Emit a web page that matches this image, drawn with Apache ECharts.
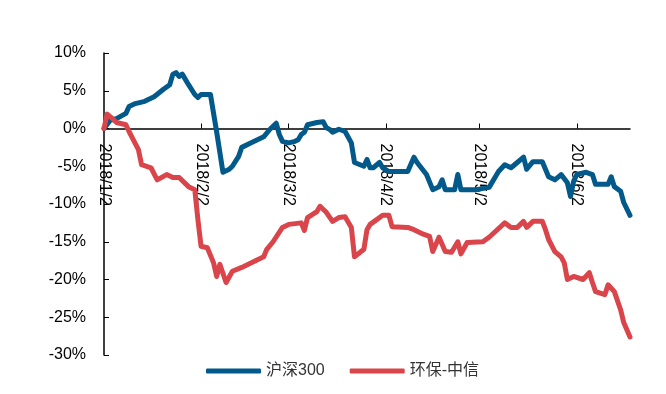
<!DOCTYPE html>
<html>
<head>
<meta charset="utf-8">
<script src="https://cdn.jsdelivr.net/npm/echarts@6/dist/echarts.min.js"></script>
<style>
  html, body { margin: 0; padding: 0; background: #fff; }
  #main { width: 666px; height: 394px; }
</style>
</head>
<body>
<div id="main"></div>
<script>
// 沪深300 累计涨跌幅（%）
var hs300Dates = ['2018-01-02','2018-01-04','2018-01-06','2018-01-09','2018-01-10','2018-01-12','2018-01-15','2018-01-17','2018-01-18','2018-01-21',
  '2018-01-23','2018-01-24','2018-01-25','2018-01-26','2018-01-27','2018-01-29','2018-01-31','2018-02-01','2018-02-02','2018-02-05',
  '2018-02-07','2018-02-09','2018-02-11','2018-02-12','2018-02-14','2018-02-15','2018-02-18','2018-02-22','2018-02-24','2018-02-26',
  '2018-02-27','2018-02-28','2018-03-02','2018-03-04','2018-03-05','2018-03-06','2018-03-07','2018-03-08','2018-03-11','2018-03-13',
  '2018-03-14','2018-03-15','2018-03-16','2018-03-18','2018-03-20','2018-03-22','2018-03-23','2018-03-26','2018-03-27','2018-03-28',
  '2018-03-29','2018-03-31','2018-04-01','2018-04-03','2018-04-05','2018-04-09','2018-04-11','2018-04-12','2018-04-15','2018-04-17',
  '2018-04-19','2018-04-20','2018-04-21','2018-04-24','2018-04-25','2018-04-26','2018-05-01','2018-05-05','2018-05-08','2018-05-10',
  '2018-05-12','2018-05-14','2018-05-16','2018-05-17','2018-05-19','2018-05-22','2018-05-23','2018-05-24','2018-05-26','2018-05-28',
  '2018-05-30','2018-05-31','2018-06-01','2018-06-02','2018-06-05','2018-06-07','2018-06-08','2018-06-12','2018-06-13','2018-06-14',
  '2018-06-16','2018-06-17','2018-06-19'];
var hs300Values = [0.0, 1.1, 1.3, 2.0, 2.9, 3.3, 3.6, 4.0, 4.2, 5.2,
  5.8, 7.2, 7.4, 6.9, 7.2, 5.8, 4.5, 4.1, 4.5, 4.5,
  -0.5, -5.8, -5.4, -5.0, -3.7, -2.5, -1.9, -1.1, -0.1, 0.7,
  -0.8, -1.7, -1.9, -1.7, -1.5, -0.8, -0.5, 0.5, 0.8, 0.9,
  0.1, -0.1, -0.5, -0.1, -0.4, -1.9, -4.5, -5.0, -4.1, -5.2,
  -5.2, -4.5, -5.2, -5.7, -5.7, -5.7, -3.8, -4.5, -6.1, -8.1,
  -7.7, -6.8, -8.1, -8.1, -6.1, -8.1, -8.1, -7.8, -5.7, -4.8,
  -5.2, -4.5, -3.8, -5.4, -4.4, -4.4, -5.4, -6.4, -6.8, -6.1,
  -7.2, -9.0, -7.0, -6.1, -5.8, -6.1, -7.4, -7.4, -6.4, -7.7,
  -8.3, -9.8, -11.5];

// 环保-中信 累计涨跌幅（%）
var envDates = ['2018-01-02','2018-01-03','2018-01-05','2018-01-06','2018-01-09','2018-01-10','2018-01-11','2018-01-13','2018-01-14','2018-01-17',
  '2018-01-19','2018-01-22','2018-01-24','2018-01-26','2018-01-29','2018-01-31','2018-02-01','2018-02-02','2018-02-04','2018-02-06',
  '2018-02-07','2018-02-08','2018-02-10','2018-02-12','2018-02-15','2018-02-22','2018-02-23','2018-02-25','2018-02-28','2018-03-02',
  '2018-03-06','2018-03-07','2018-03-08','2018-03-11','2018-03-12','2018-03-14','2018-03-16','2018-03-18','2018-03-20','2018-03-22',
  '2018-03-23','2018-03-26','2018-03-27','2018-03-28','2018-03-30','2018-04-01','2018-04-03','2018-04-04','2018-04-09','2018-04-11',
  '2018-04-14','2018-04-16','2018-04-17','2018-04-19','2018-04-21','2018-04-23','2018-04-25','2018-04-26','2018-04-28','2018-05-03',
  '2018-05-05','2018-05-10','2018-05-12','2018-05-14','2018-05-16','2018-05-17','2018-05-19','2018-05-22','2018-05-23','2018-05-24',
  '2018-05-26','2018-05-28','2018-05-29','2018-05-30','2018-06-01','2018-06-04','2018-06-06','2018-06-07','2018-06-08','2018-06-11',
  '2018-06-12','2018-06-14','2018-06-16','2018-06-17','2018-06-19'];
var envValues = [0.0, 1.9, 1.2, 0.8, 0.5, -0.4, -1.2, -2.8, -4.8, -5.2,
  -6.8, -6.1, -6.5, -6.5, -7.7, -8.1, -12.1, -15.6, -15.8, -17.8,
  -19.6, -18.0, -20.4, -18.9, -18.4, -17.0, -16.0, -15.0, -13.1, -12.7,
  -12.5, -13.5, -11.8, -11.0, -10.3, -11.1, -12.3, -11.8, -11.7, -13.1,
  -17.0, -16.0, -13.4, -12.7, -12.1, -11.5, -11.5, -13.0, -13.1, -13.4,
  -14.0, -14.3, -16.3, -14.4, -16.3, -16.4, -15.0, -16.6, -15.1, -15.0,
  -14.4, -12.5, -13.1, -13.1, -12.3, -13.1, -12.3, -12.3, -13.4, -14.7,
  -16.3, -17.0, -17.8, -20.0, -19.6, -20.0, -19.1, -20.4, -21.6, -22.0,
  -20.7, -21.6, -24.0, -25.7, -27.6];

var seriesNames = ['沪深300', '环保-中信'];
var tickDates = ['2018-01-02', '2018-02-02', '2018-03-02', '2018-04-02', '2018-05-02', '2018-06-02'];
var xRange = ['2018-01-02', '2018-06-19'];
var yTicks = { min: -30, max: 10, interval: 5 };

// 'YYYY-MM-DD' -> 本地时间戳
function ts(s) {
  var p = s.split('-');
  return new Date(+p[0], +p[1] - 1, +p[2]).getTime();
}
function pairs(dates, vals) {
  return dates.map(function (d, i) { return [ts(d), vals[i]]; });
}
var tickValues = tickDates.map(ts);

var gridTop = 53, gridBottom = 39, chartH = 394;
var plotH = chartH - gridTop - gridBottom;
// x轴放在 0% 处（v6 里 onZero 时标签不跟随，改用 offset）
var zeroOffset = -plotH * (0 - yTicks.min) / (yTicks.max - yTicks.min);

var myChart = echarts.init(document.getElementById('main'));
var font = '"Liberation Sans", Arial, "Noto Sans CJK SC", sans-serif';
var option = {
  animation: false,
  textStyle: { fontFamily: font },
  grid: { left: 104, right: 36, top: gridTop, bottom: gridBottom, containLabel: false, outerBoundsMode: 'none' },
  legend: {
    data: seriesNames,
    left: 201,
    top: 358,
    itemWidth: 55,
    itemHeight: 5,
    itemGap: 25,
    icon: 'roundRect',
    textStyle: { color: '#333', fontSize: 16, fontFamily: font }
  },
  xAxis: {
    type: 'value',
    min: ts(xRange[0]),
    max: ts(xRange[1]),
    offset: zeroOffset,
    axisLine: { onZero: false, lineStyle: { color: '#000', width: 1.5 } },
    axisTick: { show: true, inside: true, length: 5, customValues: tickValues, lineStyle: { color: '#000' } },
    axisLabel: {
      customValues: tickValues,
      rotate: -90,
      margin: 15,
      color: '#000',
      fontSize: 16,
      fontFamily: font,
      formatter: function (val) {
        var d = new Date(val);
        return d.getFullYear() + '/' + (d.getMonth() + 1) + '/' + d.getDate();
      }
    },
    splitLine: { show: false }
  },
  yAxis: {
    type: 'value',
    min: yTicks.min,
    max: yTicks.max,
    interval: yTicks.interval,
    axisLine: { show: true, onZero: false, lineStyle: { color: '#000', width: 1.5 } },
    axisTick: { show: true, inside: true, length: 5, lineStyle: { color: '#000' } },
    axisLabel: { formatter: '{value}%', color: '#000', fontSize: 16, margin: 18, fontFamily: font },
    splitLine: { show: false }
  },
  series: [
    {
      name: seriesNames[0],
      type: 'line',
      showSymbol: false,
      data: pairs(hs300Dates, hs300Values),
      itemStyle: { color: '#02598a' },
      lineStyle: { color: '#02598a', width: 5, join: 'round', cap: 'round' }
    },
    {
      name: seriesNames[1],
      type: 'line',
      showSymbol: false,
      data: pairs(envDates, envValues),
      itemStyle: { color: '#d9454a' },
      lineStyle: { color: '#d9454a', width: 5, join: 'round', cap: 'round' }
    }
  ]
};
window.onresize = myChart.resize;
myChart.setOption(option);
</script>
</body>
</html>
